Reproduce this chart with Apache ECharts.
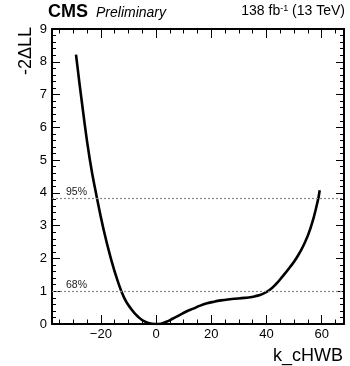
<!DOCTYPE html>
<html>
<head>
<meta charset="utf-8">
<script src="https://cdn.jsdelivr.net/npm/echarts@6/dist/echarts.min.js"></script>
<style>html,body{margin:0;padding:0;background:#fff;}#c{width:350px;height:366px;}</style>
</head>
<body>
<div id="c"></div>
<script>
const kValues   = [-29.0, -26.5, -24.0, -21.5, -19.0, -16.5, -14.0, -11.5, -9.0, -6.5, -4.0, -1.5, 1.0, 3.5, 6.0, 8.5, 11.0, 13.5, 16.0, 18.5, 21.0, 23.5, 26.0, 28.5, 31.0, 33.5, 36.0, 38.5, 41.0, 43.5, 46.0, 48.5, 51.0, 53.5, 56.0, 58.5, 59.3];
const nllValues = [8.22, 6.52, 5.02, 3.88, 2.88, 2.04, 1.34, 0.79, 0.46, 0.22, 0.07, 0.01, 0.0, 0.06, 0.16, 0.27, 0.38, 0.47, 0.56, 0.63, 0.68, 0.72, 0.75, 0.77, 0.79, 0.81, 0.85, 0.91, 1.03, 1.22, 1.47, 1.73, 2.03, 2.41, 2.93, 3.72, 4.08];
const thresholdValues = [3.84, 1.0];
const thresholdLabels = ['95%', '68%'];
const xMajorTicks = [-20, 0, 20, 40, 60];
const yMajorTicks = [0, 1, 2, 3, 4, 5, 6, 7, 8, 9];
const xRange = [-37.7, 68.1];
const yRange = [0, 9];
const xTitle = 'k_cHWB';
const yTitle = '-2\u0394LL';

const FONT = 'Liberation Sans, Arial, Helvetica, sans-serif';
const xMinor = [];
for (let v = -35; v <= 65; v += 5) if (xMajorTicks.indexOf(v) < 0) xMinor.push(v);
const yMinor = [];
for (let i = 0; i <= 45; i++) { const v = +(i * 0.2).toFixed(1); if (Math.abs(v - Math.round(v)) > 1e-6) yMinor.push(v); }

function xAx(pos, ticks, len, showLine, showLabel) {
  return {
    type: 'value', position: pos, min: xRange[0], max: xRange[1], gridIndex: 0,
    axisLine: { show: showLine, onZero: false, lineStyle: { color: '#000', width: 2 } },
    axisTick: { show: true, inside: true, length: len, customValues: ticks, lineStyle: { color: '#000', width: 1 } },
    axisLabel: showLabel ? { show: true, customValues: ticks, margin: 4, color: '#000', fontFamily: FONT, fontSize: 13,
      formatter: v => String(v).replace('-', '\u2212') } : { show: false },
    splitLine: { show: false }
  };
}
function yAx(pos, ticks, len, showLine, showLabel) {
  return {
    type: 'value', position: pos, min: yRange[0], max: yRange[1], gridIndex: 0,
    axisLine: { show: showLine, onZero: false, lineStyle: { color: '#000', width: 2 } },
    axisTick: { show: true, inside: true, length: len, customValues: ticks, lineStyle: { color: '#000', width: 1 } },
    axisLabel: showLabel ? { show: true, customValues: ticks, margin: 5, color: '#000', fontFamily: FONT, fontSize: 13 } : { show: false },
    splitLine: { show: false }
  };
}

const curve = kValues.map((k, i) => [k, nllValues[i]]);

const chart = echarts.init(document.getElementById('c'), null, { renderer: 'canvas' });
chart.setOption({
  animation: false,
  backgroundColor: '#fff',
  grid: { left: 52, right: 6, top: 29, bottom: 42, containLabel: false },
  xAxis: [
    xAx('bottom', xMajorTicks, 9, true, true),
    xAx('bottom', xMinor, 4.5, false, false),
    xAx('top', xMajorTicks, 9, true, false),
    xAx('top', xMinor, 4.5, false, false)
  ],
  yAxis: [
    yAx('left', yMajorTicks, 8, true, true),
    yAx('left', yMinor, 4, false, false),
    yAx('right', yMajorTicks, 8, true, false),
    yAx('right', yMinor, 4, false, false)
  ],
  series: [{
    type: 'line', xAxisIndex: 0, yAxisIndex: 0,
    data: curve, smooth: 0.5, showSymbol: false, symbol: 'none',
    lineStyle: { color: '#000', width: 2.6 },
    markLine: {
      silent: true, symbol: ['none', 'none'],
      lineStyle: { color: '#888', type: [2, 2], width: 1.2 },
      label: { show: true, position: 'insideStartTop', distance: [14, 1], color: '#222', fontFamily: FONT, fontSize: 10.5,
        formatter: p => thresholdLabels[thresholdValues.indexOf(p.value)] },
      data: thresholdValues.map(v => ({ yAxis: v }))
    }
  }],
  graphic: [
    { type: 'text', left: 48, top: 3, style: { text: 'CMS', font: 'bold 18px ' + FONT, fill: '#000' } },
    { type: 'text', left: 96, top: 6, style: { text: 'Preliminary', font: 'italic 14px ' + FONT, fill: '#000' } },
    { type: 'text', right: 5, top: 4, style: { text: '{a|138 fb}{s|-1}{a| (13 TeV)}', fill: '#000',
      rich: { a: { fontFamily: FONT, fontSize: 14, fill: '#000' }, s: { fontFamily: FONT, fontSize: 9, fill: '#000', verticalAlign: 'top', padding: [0, 0, 6, 0] } } } },
    { type: 'text', x: 26, y: 27, rotation: Math.PI / 2, style: { text: yTitle, font: '18px ' + FONT, fill: '#000', align: 'right', verticalAlign: 'middle' } },
    { type: 'text', right: 7, top: 347, style: { text: xTitle, font: '18px ' + FONT, fill: '#000' } }
  ]
});
</script>
</body>
</html>
